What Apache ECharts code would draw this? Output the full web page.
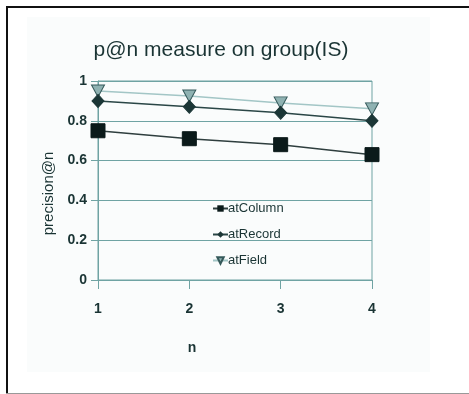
<!DOCTYPE html>
<html>
<head>
<meta charset="utf-8">
<script src="https://cdn.jsdelivr.net/npm/echarts@6/dist/echarts.min.js"></script>
<style>
html,body{margin:0;padding:0;background:#fff;}
#main{width:469px;height:394px;}
</style>
</head>
<body>
<div id="main"></div>
<script>
const categories = ['1', '2', '3', '4'];
const atColumn = [0.75, 0.71, 0.68, 0.63];
const atRecord = [0.90, 0.87, 0.84, 0.80];
const atField = [0.95, 0.925, 0.89, 0.86];
const yTicks = [0, 0.2, 0.4, 0.6, 0.8, 1];

const teal = '#6fa3a3';
const textDark = '#1a3434';
const font = '"Liberation Sans", Arial, sans-serif';

const chart = echarts.init(document.getElementById('main'), null, {renderer: 'canvas'});
chart.setOption({
  animation: false,
  backgroundColor: '#ffffff',
  graphic: [
    {type: 'rect', z: -10, shape: {x: 27, y: 17, width: 403, height: 355}, style: {fill: '#fafcfc'}},
    {type: 'line', z: 10, shape: {x1: 7, y1: 6, x2: 7, y2: 394}, style: {stroke: '#111', lineWidth: 2}},
    {type: 'line', z: 10, shape: {x1: 6, y1: 7, x2: 469, y2: 7}, style: {stroke: '#111', lineWidth: 2}},
    {type: 'line', z: 10, shape: {x1: 6, y1: 393.5, x2: 469, y2: 393.5}, style: {stroke: '#999', lineWidth: 1}}
  ],
  title: {
    text: 'p@n measure on group(IS)',
    left: 216, top: 35, textAlign: 'center',
    textStyle: {fontFamily: font, fontSize: 21, fontWeight: 'normal', color: textDark}
  },
  legend: {
    orient: 'vertical',
    left: 207, top: 197,
    itemWidth: 15, itemHeight: 8, itemGap: 13,
    textStyle: {fontFamily: font, fontSize: 13, color: textDark, padding: [0, 0, 0, -5]},
    data: ['atColumn', 'atRecord', 'atField']
  },
  grid: {
    left: 98, right: 97, top: 81, bottom: 114,
    show: true, borderColor: teal, borderWidth: 1, backgroundColor: 'transparent'
  },
  xAxis: {
    type: 'category',
    data: categories,
    boundaryGap: false,
    name: 'n',
    nameLocation: 'middle',
    nameGap: 61,
    nameTextStyle: {fontFamily: font, fontSize: 14, fontWeight: 'bold', color: textDark, padding: [0, 86, 0, 0]},
    axisLine: {lineStyle: {color: teal, width: 1}},
    axisTick: {show: true, length: 9, lineStyle: {color: teal}},
    axisLabel: {margin: 22, fontFamily: font, fontSize: 14, fontWeight: 'bold', color: textDark},
    splitLine: {show: false}
  },
  yAxis: {
    type: 'value',
    min: yTicks[0], max: yTicks[yTicks.length - 1], interval: 0.2,
    name: 'precision@n',
    nameLocation: 'middle',
    nameGap: 42,
    nameTextStyle: {fontFamily: font, fontSize: 15, color: textDark, padding: [0, 26, 0, 0]},
    axisLine: {show: true, lineStyle: {color: teal, width: 1}},
    axisTick: {show: true, length: 7, lineStyle: {color: teal}},
    axisLabel: {margin: 11, fontFamily: font, fontSize: 14, fontWeight: 'bold', color: textDark},
    splitLine: {show: true, lineStyle: {color: teal, width: 1}}
  },
  series: [
    {
      name: 'atColumn', type: 'line', data: atColumn, z: 3,
      symbol: 'rect', symbolSize: 14,
      itemStyle: {color: '#0b1a1a', borderColor: '#0b1a1a'},
      lineStyle: {color: '#2e3e3e', width: 1.5}
    },
    {
      name: 'atRecord', type: 'line', data: atRecord, z: 5,
      symbol: 'diamond', symbolSize: [12, 13],
      itemStyle: {color: '#1b3636', borderColor: '#1b3636'},
      lineStyle: {color: '#2a4646', width: 1.5}
    },
    {
      name: 'atField', type: 'line', data: atField, z: 4,
      symbol: 'triangle', symbolRotate: 180, symbolSize: [13, 12],
      itemStyle: {color: '#8fb2b2', borderColor: '#35595a', borderWidth: 1},
      lineStyle: {color: '#a3c6c6', width: 1.5}
    }
  ]
});
</script>
</body>
</html>
